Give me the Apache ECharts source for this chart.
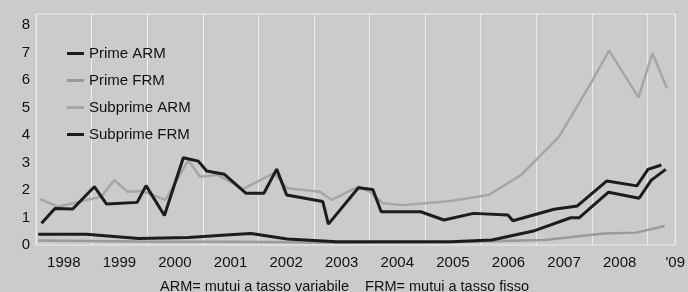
<!DOCTYPE html>
<html>
<head>
<meta charset="utf-8">
<script src="https://cdn.jsdelivr.net/npm/echarts@6/dist/echarts.min.js"></script>
<style>
  html, body { margin: 0; padding: 0; background: #cbcbcb; }
  #chart { width: 688px; height: 292px; }
</style>
</head>
<body>
<div id="chart"></div>
<script>
// [year, value]
var primeArm = [
  [1998.04, 0.39], [1998.90, 0.39], [1999.85, 0.24], [2000.74, 0.27], [2001.63, 0.39],
  [2001.87, 0.42], [2002.52, 0.22], [2003.41, 0.12], [2005.46, 0.12], [2006.20, 0.18],
  [2006.97, 0.52], [2007.62, 0.99], [2007.77, 0.99], [2008.30, 1.92], [2008.85, 1.70],
  [2009.07, 2.36], [2009.33, 2.75]
];
var primeFrm = [
  [1998.04, 0.16], [1999.85, 0.13], [2001.63, 0.12], [2003.41, 0.08], [2005.37, 0.10],
  [2007.15, 0.18], [2008.21, 0.42], [2008.80, 0.45], [2009.31, 0.69]
];
var subprimeArm = [
  [1998.07, 1.67], [1998.40, 1.39], [1999.17, 1.76], [1999.41, 2.36], [1999.64, 1.94],
  [1999.91, 1.96], [2000.33, 1.64], [2000.74, 3.09], [2000.95, 2.48], [2001.27, 2.55],
  [2001.72, 2.03], [2002.28, 2.61], [2002.52, 2.06], [2003.11, 1.94], [2003.32, 1.64],
  [2003.80, 2.12], [2004.00, 1.94], [2004.24, 1.52], [2004.60, 1.45], [2005.46, 1.60],
  [2006.14, 1.82], [2006.73, 2.55], [2007.41, 3.94], [2007.98, 5.88], [2008.31, 7.07],
  [2008.84, 5.37], [2009.09, 6.97], [2009.35, 5.70]
];
var subprimeFrm = [
  [1998.10, 0.79], [1998.34, 1.33], [1998.66, 1.31], [1999.05, 2.12], [1999.27, 1.49],
  [1999.82, 1.55], [1999.98, 2.16], [2000.31, 1.07], [2000.65, 3.17], [2000.92, 3.05],
  [2001.07, 2.69], [2001.39, 2.57], [2001.78, 1.88], [2002.10, 1.88], [2002.33, 2.76],
  [2002.51, 1.82], [2003.16, 1.58], [2003.26, 0.76], [2003.80, 2.08], [2004.06, 2.02],
  [2004.21, 1.21], [2004.92, 1.21], [2005.34, 0.91], [2005.87, 1.15], [2006.49, 1.09],
  [2006.58, 0.88], [2007.32, 1.30], [2007.74, 1.42], [2008.27, 2.33], [2008.81, 2.15],
  [2009.01, 2.75], [2009.25, 2.91]
];
var seriesNames = ['Prime ARM', 'Prime FRM', 'Subprime ARM', 'Subprime FRM'];
var note = 'ARM= mutui a tasso variabile    FRM= mutui a tasso fisso';

var font = "'Liberation Sans Narrow', 'Liberation Sans', sans-serif";

function lineSeries(name, data, color, width, z) {
  return {
    name: name,
    type: 'line',
    xAxisIndex: 0,
    data: data,
    symbol: 'none',
    z: z,
    lineStyle: { color: color, width: width },
    itemStyle: { color: color }
  };
}

var myChart = echarts.init(document.getElementById('chart'));
var option = {
  backgroundColor: '#cbcbcb',
  animation: false,
  textStyle: { fontFamily: font },
  title: {
    text: note,
    left: 155,
    top: 274,
    textStyle: { fontFamily: font, fontSize: 14.5, fontWeight: 'normal', color: '#111' }
  },
  legend: {
    orient: 'vertical',
    left: 62,
    top: 41,
    icon: 'rect',
    itemWidth: 17,
    itemHeight: 3,
    itemGap: 12,
    data: seriesNames,
    textStyle: { fontFamily: font, fontSize: 15, lineHeight: 14, color: '#111' }
  },
  grid: {
    left: 36, right: 6, top: 14, bottom: 47,
    show: true, borderColor: '#ececec', borderWidth: 1, backgroundColor: 'transparent'
  },
  xAxis: [
    {
      type: 'value', min: 1998, max: 2009.5, interval: 1,
      axisLine: { show: false }, axisTick: { show: false }, axisLabel: { show: false },
      splitLine: { show: true, lineStyle: { color: '#ececec', width: 1 } }
    },
    {
      type: 'value', min: 1998, max: 2009.5, interval: 0.5, position: 'bottom',
      axisLine: { show: false }, axisTick: { show: false }, splitLine: { show: false },
      axisLabel: {
        margin: 10,
        fontFamily: font, fontSize: 15, color: '#111',
        formatter: function (v) {
          if (Math.abs(v % 1 - 0.5) > 0.01) return '';
          var y = Math.floor(v);
          return y >= 2009 ? "'09" : String(y);
        }
      }
    }
  ],
  yAxis: {
    type: 'value', min: 0, max: 8.4, interval: 1,
    axisLine: { show: false }, axisTick: { show: false }, splitLine: { show: false },
    axisLabel: {
      margin: 6, fontFamily: font, fontSize: 15, color: '#111',
      formatter: function (v) { return v > 8 ? '' : String(v); }
    }
  },
  series: [
    lineSeries('Prime ARM', primeArm, '#1c1c1c', 3, 4),
    lineSeries('Prime FRM', primeFrm, '#9a9a9a', 2.5, 2),
    lineSeries('Subprime ARM', subprimeArm, '#a6a6a6', 2.5, 2),
    lineSeries('Subprime FRM', subprimeFrm, '#1c1c1c', 3, 3)
  ]
};
myChart.setOption(option);
</script>
</body>
</html>
